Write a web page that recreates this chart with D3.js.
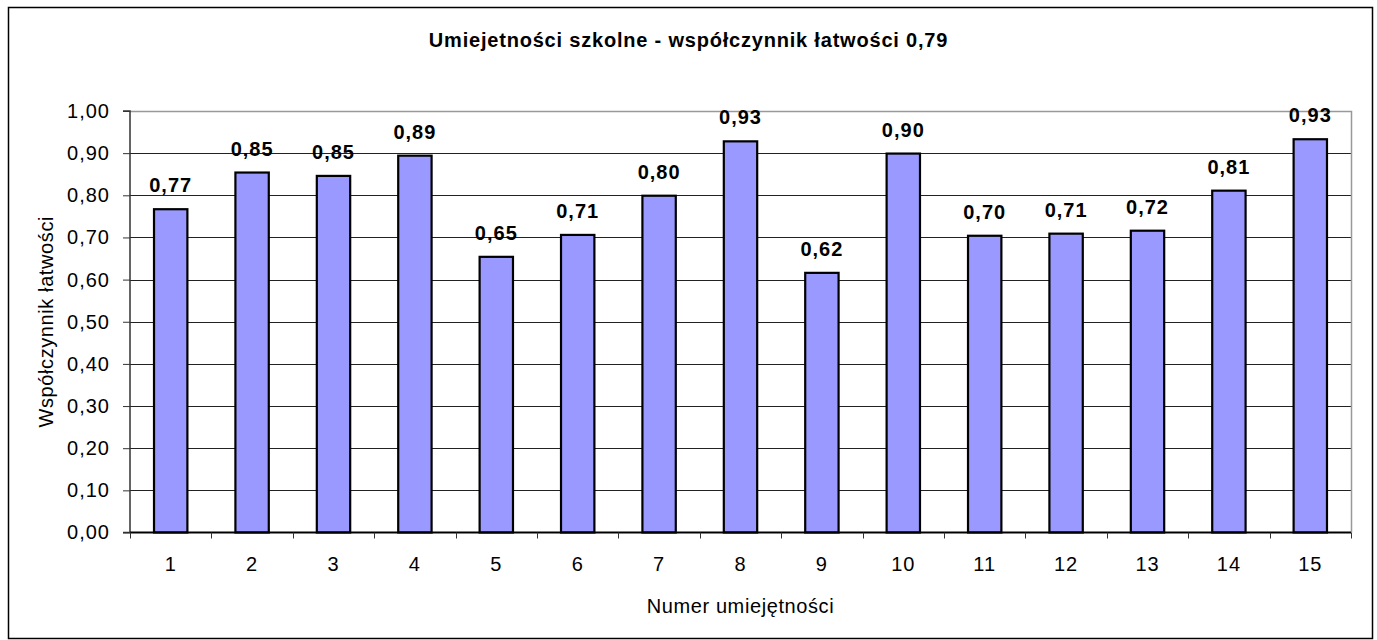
<!DOCTYPE html>
<html><head><meta charset="utf-8">
<script src="https://cdn.jsdelivr.net/npm/d3@7"></script>
<style>
html,body{margin:0;padding:0;background:#fff;}
text{font-family:"Liberation Sans",Arial,sans-serif;fill:#000;}
</style></head>
<body>
<svg id="chart" width="1377" height="640"></svg>
<script>
const titleText = "Umiejetności szkolne - współczynnik łatwości 0,79";
const xTitle = "Numer umiejętności";
const yTitle = "Współczynnik łatwości";
const categories = ["1","2","3","4","5","6","7","8","9","10","11","12","13","14","15"];
const values = [0.767, 0.854, 0.846, 0.894, 0.654, 0.706, 0.799, 0.928, 0.616, 0.899, 0.704, 0.709, 0.716, 0.811, 0.933];
const yTicks = [0,0.1,0.2,0.3,0.4,0.5,0.6,0.7,0.8,0.9,1.0];

const svg = d3.select("#chart");
const loc = d3.formatLocale({decimal:",", thousands:" ", grouping:[3], currency:["","zł"]});
const fmt = loc.format(".2f");

const L = 130, R = 1351, T = 111, B = 532.5;

// outer border
svg.append("rect").attr("x",8.5).attr("y",7.5).attr("width",1364).attr("height",631)
  .attr("fill","#fff").attr("stroke","#000").attr("stroke-width",1.5);

const x = d3.scaleBand().domain(categories).range([L,R]).paddingInner(0.59).paddingOuter(0.295);
const y = d3.scaleLinear().domain([0,1]).range([B,T]);

// gridlines
svg.append("g").selectAll("line").data(yTicks.filter(d=>d>0 && d<1)).join("line")
  .attr("x1",L).attr("x2",R).attr("y1",d=>Math.round(y(d))+0.5).attr("y2",d=>Math.round(y(d))+0.5)
  .attr("stroke","#222").attr("stroke-width",1);

// plot border top/right gray
svg.append("path").attr("d",`M${L},${T+0.5}H${R+0.5}V${B}`).attr("fill","none")
  .attr("stroke","#999").attr("stroke-width",1.5);

// bars
svg.append("g").selectAll("rect").data(values).join("rect")
  .attr("x",(d,i)=>x(categories[i])).attr("width",x.bandwidth())
  .attr("y",d=>y(d)).attr("height",d=>B-y(d))
  .attr("fill","#9999FF").attr("stroke","#000").attr("stroke-width",2.2);

// value labels
svg.append("g").selectAll("text").data(values).join("text")
  .attr("x",(d,i)=>x(categories[i])+x.bandwidth()/2)
  .attr("y",d=>y(d)-17)
  .attr("text-anchor","middle").attr("font-size","20px").attr("font-weight","bold")
  .attr("letter-spacing","1px")
  .text(d=>fmt(d));

// y axis
const yAxis = d3.axisLeft(y).tickValues(yTicks).tickFormat(fmt).tickSize(7).tickPadding(13);
const gy = svg.append("g").attr("transform",`translate(${L},0)`).call(yAxis);
gy.select(".domain").attr("stroke","#333").attr("stroke-width",1.5).attr("d",`M-7,${T}H0V${B}H-7`);
gy.selectAll(".tick line").attr("stroke","#333");
gy.selectAll(".tick text").attr("font-size","20px").attr("letter-spacing","1px")
  .attr("font-family","'Liberation Sans',Arial,sans-serif").attr("fill","#000");

// x axis
const xAxis = d3.axisBottom(x).tickSize(0).tickPadding(24);
const gx = svg.append("g").attr("transform",`translate(0,${B})`).call(xAxis);
gx.select(".domain").attr("stroke","#000").attr("stroke-width",2).attr("d",`M${L},0H${R}`);
gx.selectAll(".tick text").attr("font-size","20px").attr("letter-spacing","1px")
  .attr("font-family","'Liberation Sans',Arial,sans-serif").attr("fill","#000");
// boundary ticks
const bounds = d3.range(categories.length+1).map(i=> i===0?L:(i===categories.length?R:x(categories[i]) - x.step()*x.paddingInner()/2));
svg.append("g").selectAll("line").data(bounds).join("line")
  .attr("x1",d=>Math.round(d)+0.5).attr("x2",d=>Math.round(d)+0.5).attr("y1",B).attr("y2",B+6)
  .attr("stroke","#333").attr("stroke-width",1);

// titles
svg.append("text").attr("x",688.5).attr("y",47).attr("text-anchor","middle")
  .attr("font-size","20px").attr("font-weight","bold").attr("letter-spacing","0.8px").text(titleText);
svg.append("text").attr("x",(L+R)/2).attr("y",613).attr("text-anchor","middle")
  .attr("font-size","20px").attr("letter-spacing","0.6px").text(xTitle);
svg.append("text").attr("transform",`translate(53,${(T+B)/2}) rotate(-90)`).attr("text-anchor","middle")
  .attr("font-size","20px").attr("letter-spacing","0.6px").text(yTitle);
</script>
</body></html>
